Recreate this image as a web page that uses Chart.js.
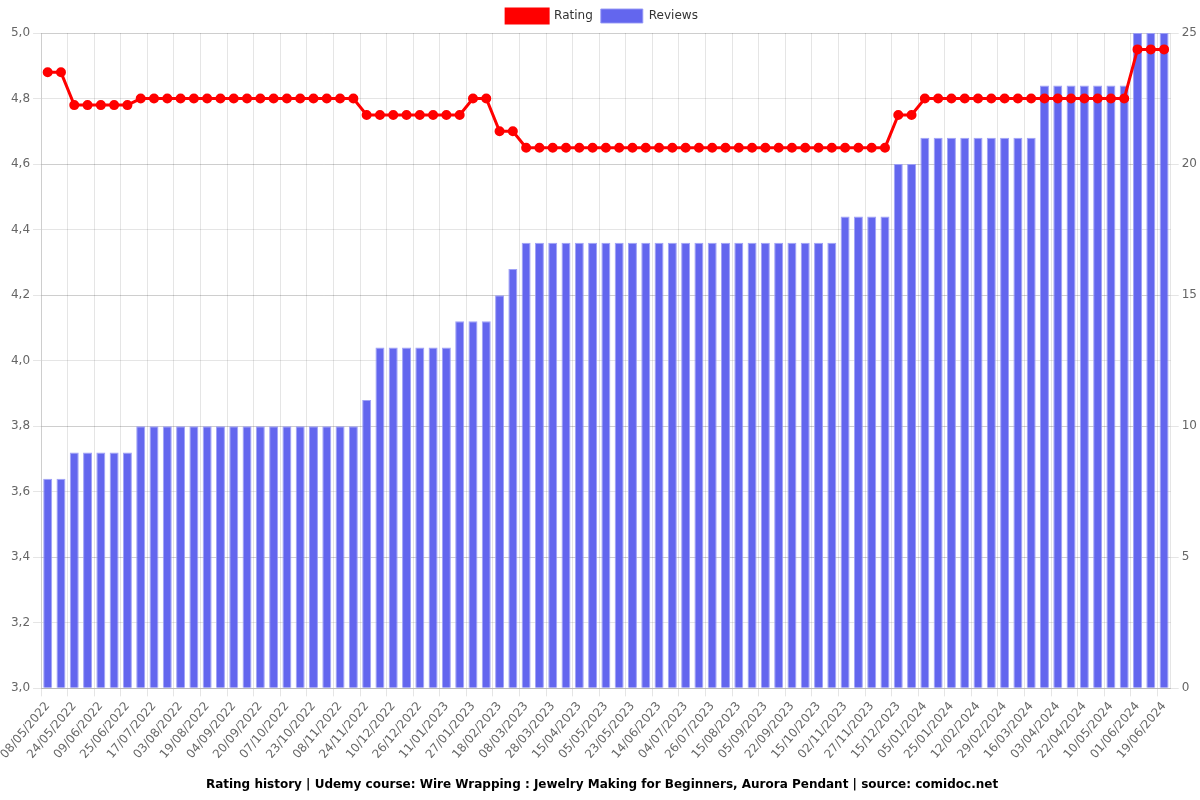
<!DOCTYPE html>
<html>
<head>
<meta charset="utf-8">
<script src="https://cdn.jsdelivr.net/npm/chart.js@4"></script>
<style>
html,body{margin:0;padding:0;background:#fff;}
#wrap{width:1200px;height:800px;position:relative;}
</style>
</head>
<body>
<div id="wrap"><canvas id="c"></canvas></div>
<script>
const labels = [
"08/05/2022","16/05/2022","24/05/2022","01/06/2022","09/06/2022","17/06/2022","25/06/2022","06/07/2022","17/07/2022","25/07/2022",
"03/08/2022","11/08/2022","19/08/2022","27/08/2022","04/09/2022","12/09/2022","20/09/2022","29/09/2022","07/10/2022","15/10/2022",
"23/10/2022","31/10/2022","08/11/2022","16/11/2022","24/11/2022","02/12/2022","10/12/2022","18/12/2022","26/12/2022","03/01/2023",
"11/01/2023","19/01/2023","27/01/2023","06/02/2023","18/02/2023","27/02/2023","08/03/2023","18/03/2023","28/03/2023","06/04/2023",
"15/04/2023","25/04/2023","05/05/2023","14/05/2023","23/05/2023","03/06/2023","14/06/2023","24/06/2023","04/07/2023","15/07/2023",
"26/07/2023","05/08/2023","15/08/2023","25/08/2023","05/09/2023","14/09/2023","22/09/2023","03/10/2023","15/10/2023","24/10/2023",
"02/11/2023","14/11/2023","27/11/2023","06/12/2023","15/12/2023","25/12/2023","05/01/2024","15/01/2024","25/01/2024","03/02/2024",
"12/02/2024","20/02/2024","29/02/2024","07/03/2024","16/03/2024","25/03/2024","03/04/2024","12/04/2024","22/04/2024","01/05/2024",
"10/05/2024","20/05/2024","01/06/2024","10/06/2024","19/06/2024"
];
const rating = [
4.88,4.88,4.78,4.78,4.78,4.78,4.78,4.8,4.8,4.8,
4.8,4.8,4.8,4.8,4.8,4.8,4.8,4.8,4.8,4.8,
4.8,4.8,4.8,4.8,4.75,4.75,4.75,4.75,4.75,4.75,
4.75,4.75,4.8,4.8,4.7,4.7,4.65,4.65,4.65,4.65,
4.65,4.65,4.65,4.65,4.65,4.65,4.65,4.65,4.65,4.65,
4.65,4.65,4.65,4.65,4.65,4.65,4.65,4.65,4.65,4.65,
4.65,4.65,4.65,4.65,4.75,4.75,4.8,4.8,4.8,4.8,
4.8,4.8,4.8,4.8,4.8,4.8,4.8,4.8,4.8,4.8,
4.8,4.8,4.95,4.95,4.95
];
const reviews = [
8,8,9,9,9,9,9,10,10,10,
10,10,10,10,10,10,10,10,10,10,
10,10,10,10,11,13,13,13,13,13,
13,14,14,14,15,16,17,17,17,17,
17,17,17,17,17,17,17,17,17,17,
17,17,17,17,17,17,17,17,17,17,
18,18,18,18,20,20,21,21,21,21,
21,21,21,21,21,23,23,23,23,23,
23,23,25,25,25
];
const titleText = "Rating history | Udemy course: Wire Wrapping : Jewelry Making for Beginners, Aurora Pendant | source: comidoc.net";

Chart.defaults.font.family = "'DejaVu Sans', sans-serif";
Chart.defaults.font.size = 12;
Chart.defaults.color = '#666';

new Chart(document.getElementById('c'), {
  type: 'bar',
  data: {
    labels: labels,
    datasets: [
      {
        type: 'line',
        label: 'Rating',
        data: rating,
        borderColor: '#ff0000',
        backgroundColor: '#ff0000',
        borderWidth: 3,
        pointRadius: 3.5,
        pointBackgroundColor: '#ff0000',
        pointBorderColor: '#ff0000',
        tension: 0,
        yAxisID: 'y'
      },
      {
        type: 'bar',
        label: 'Reviews',
        data: reviews,
        backgroundColor: '#6366ee',
        borderColor: 'rgba(150,152,245,0.9)',
        borderWidth: 1,
        barPercentage: 0.9,
        categoryPercentage: 0.75,
        yAxisID: 'y1'
      }
    ]
  },
  options: {
    responsive: true,
    maintainAspectRatio: false,
    animation: false,
    layout: { padding: { left: 4, right: 0, top: 1, bottom: 0 } },
    plugins: {
      legend: {
        position: 'top',
        labels: { color: '#333', boxWidth: 42, boxHeight: 14, padding: 8 }
      },
      title: {
        display: true,
        text: titleText,
        position: 'bottom',
        color: '#000',
        font: { weight: 'bold', size: 12 },
        padding: { top: 13, bottom: 8 }
      },
      tooltip: { enabled: false }
    },
    scales: {
      x: {
        grid: {
          color: (ctx) => (ctx.index % 2 === 0 ? 'rgba(0,0,0,0.1)' : 'rgba(0,0,0,0)')
        },
        ticks: {
          autoSkip: false,
          minRotation: 50,
          maxRotation: 50,
          callback: function(v, i) { return i % 2 === 0 ? labels[i] : ''; }
        }
      },
      y: {
        position: 'left',
        min: 3.0,
        max: 5.0,
        ticks: {
          stepSize: 0.2,
          callback: (v) => v.toFixed(1).replace('.', ',')
        },
        grid: { color: 'rgba(0,0,0,0.1)' }
      },
      y1: {
        position: 'right',
        min: 0,
        max: 25,
        ticks: { stepSize: 5 },
        grid: { color: 'rgba(0,0,0,0.1)' }
      }
    }
  }
});
</script>
</body>
</html>
